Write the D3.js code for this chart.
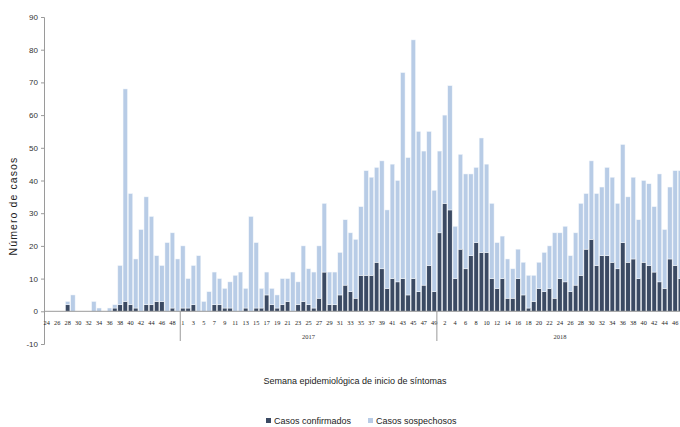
<!DOCTYPE html>
<html>
<head>
<meta charset="utf-8">
<script src="https://cdn.jsdelivr.net/npm/d3@7"></script>
<style>
  body { margin: 0; background: #fff; }
  svg { display: block; font-family: "Liberation Sans", Arial, sans-serif; }
</style>
</head>
<body>
<script>
// weeks shown per year
var weeks2016 = d3.range(24, 50);   // 24..49
var weeks2017 = d3.range(1, 50);    // 1..49
var weeks2018 = d3.range(1, 48);    // 1..47

// confirmed cases (dark) per week
var confirmed2016 = [0,0,0,0,2,0,0,0,0,0,0,0,0,1,2,3,2,1,0,2,2,3,3,0,1,0];
var confirmed2017 = [1,1,2,0,0,0,2,2,1,1,0,0,1,0,1,1,5,2,1,2,3,0,2,3,2,
                     1,4,12,2,2,5,8,6,4,11,11,11,15,13,7,10,9,10,5,10,6,8,14,6];
var confirmed2018 = [24,33,31,10,19,13,17,21,18,18,10,7,10,4,4,10,5,1,3,7,6,7,4,10,
                     9,6,8,11,19,22,14,17,17,15,13,21,15,16,10,15,14,12,9,7,16,14,10];

// suspected cases (light) per week, stacked on top
var suspected2016 = [0,0,0,0,1,5,0,0,0,3,1,0,1,1,12,65,34,15,25,33,27,14,11,21,23,16];
var suspected2017 = [19,9,12,17,3,6,10,8,6,8,11,12,6,29,20,6,7,5,4,8,7,12,7,17,11,
                     11,16,21,10,10,13,20,18,18,21,32,30,29,33,24,35,31,63,42,73,49,41,41,31];
var suspected2018 = [25,27,38,16,29,29,25,23,35,27,23,14,13,12,9,9,10,10,8,8,12,13,20,14,
                     17,11,16,22,17,24,22,21,27,26,20,30,20,25,18,25,25,20,33,18,22,29,33];

var yTicks = [-10, 0, 10, 20, 30, 40, 50, 60, 70, 80, 90];
var years = ["2016", "2017", "2018"];
var seriesNames = ["Casos confirmados", "Casos sospechosos"];
var colors = ["#3b4a63", "#b8cce6"];

var w = 680, h = 427;

// build rows for the stack
var rows = [];
[[years[0], weeks2016, confirmed2016, suspected2016],
 [years[1], weeks2017, confirmed2017, suspected2017],
 [years[2], weeks2018, confirmed2018, suspected2018]].forEach(function(g){
    g[1].forEach(function(wk, i){
        rows.push({key: g[0] + "-" + wk, year: g[0], week: wk, idx: rows.length,
                   conf: g[2][i], susp: g[3][i]});
    });
});

var svg = d3.select("body")
    .append("svg")
    .attr("width", w)
    .attr("height", h);

var x = d3.scaleBand()
    .domain(rows.map(function(d){ return d.key; }))
    .range([44.1, 683])
    .paddingInner(0.15)
    .paddingOuter(0.075);

var y = d3.scaleLinear()
    .domain([-10, 90])
    .range([344, 17]);

var stack = d3.stack().keys(["conf", "susp"]);
var layers = stack(rows);

svg.append("g")
    .selectAll("g")
    .data(layers)
    .enter()
    .append("g")
    .attr("fill", function(d, i){ return colors[i]; })
    .selectAll("rect")
    .data(function(d){ return d; })
    .enter()
    .append("rect")
    .filter(function(d){ return d[1] > d[0]; })
    .attr("x", function(d){ return x(d.data.key); })
    .attr("width", x.bandwidth())
    .attr("y", function(d){ return y(d[1]); })
    .attr("height", function(d){ return y(d[0]) - y(d[1]); })
    .attr("stroke", "#f4f7fb")
    .attr("stroke-width", 0.5);

// y axis (plain hyphen for negatives, like the original)
var yAxis = d3.axisLeft(y)
    .tickValues(yTicks)
    .tickFormat(function(d){ return String(d); })
    .tickSize(3)
    .tickPadding(3);

var ya = svg.append("g")
    .attr("transform", "translate(44,0)")
    .call(yAxis);
ya.select(".domain").attr("stroke", "#9a9a9a");
ya.selectAll(".tick line").attr("stroke", "#9a9a9a");
ya.selectAll("text")
    .attr("font-size", 8)
    .attr("fill", "#333");

// zero line
svg.append("line")
    .attr("x1", 44).attr("x2", w)
    .attr("y1", y(0)).attr("y2", y(0))
    .attr("stroke", "#9a9a9a")
    .attr("stroke-width", 1);

// week labels on every other category
svg.append("g")
    .selectAll("text")
    .data(rows.filter(function(d){ return d.idx % 2 === 0; }))
    .enter()
    .append("text")
    .attr("x", function(d){ return x(d.key) + x.bandwidth() / 2; })
    .attr("y", 325)
    .attr("text-anchor", "middle")
    .attr("font-family", "Liberation Serif, serif")
    .attr("font-size", 6.3)
    .attr("fill", "#222")
    .text(function(d){ return d.week; });

// year group separators and labels
var groups = years.map(function(yr){
    return rows.filter(function(d){ return d.year === yr; });
});
groups.forEach(function(grp, i){
    var x0 = x(grp[0].key) - x.step() * x.paddingInner() / 2;
    var x1 = x(grp[grp.length - 1].key) + x.bandwidth() + x.step() * x.paddingInner() / 2;
    if (i > 0) {
        svg.append("line")
            .attr("x1", x0).attr("x2", x0)
            .attr("y1", y(0)).attr("y2", 341)
            .attr("stroke", "#9a9a9a");
        svg.append("text")
            .attr("x", (x0 + Math.min(x1, 683)) / 2)
            .attr("y", 339)
            .attr("text-anchor", "middle")
            .attr("font-family", "Liberation Serif, serif")
            .attr("font-size", 6.5)
            .attr("fill", "#333")
            .text(years[i]);
    }
});

// axis titles
svg.append("text")
    .attr("transform", "translate(17,206) rotate(-90)")
    .attr("text-anchor", "middle")
    .attr("font-size", 10.5)
    .attr("letter-spacing", 1.1)
    .attr("fill", "#222")
    .text("Número de casos");

svg.append("text")
    .attr("x", 355)
    .attr("y", 384)
    .attr("text-anchor", "middle")
    .attr("font-size", 9)
    .attr("fill", "#222")
    .text("Semana epidemiológica de inicio de síntomas");

// legend
var legend = svg.append("g")
    .selectAll("g")
    .data(seriesNames)
    .enter()
    .append("g")
    .attr("transform", function(d, i){ return "translate(" + (266 + i * 102) + ",424)"; });

legend.append("rect")
    .attr("x", 0)
    .attr("y", -6)
    .attr("width", 5)
    .attr("height", 5)
    .attr("fill", function(d, i){ return colors[i]; });

legend.append("text")
    .attr("x", 8)
    .attr("y", 0)
    .attr("font-size", 9)
    .attr("fill", "#222")
    .text(function(d){ return d; });
</script>
</body>
</html>
